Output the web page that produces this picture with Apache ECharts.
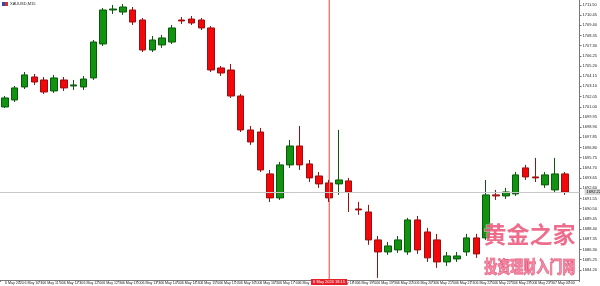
<!DOCTYPE html>
<html>
<head>
<meta charset="utf-8">
<script src="https://cdn.jsdelivr.net/npm/echarts@6/dist/echarts.min.js"></script>
<style>
html,body{margin:0;padding:0;background:#fff;}
#chart{width:600px;height:286px;}
</style>
</head>
<body>
<div id="chart"></div>
<script>
// Candle times (M15), 6 May 10:00 -> 7 May 00:15, plus one empty slot (chart shift)
const categories = [
 '6 May 10:00','6 May 10:15','6 May 10:30','6 May 10:45','6 May 11:00','6 May 11:15','6 May 11:30','6 May 11:45',
 '6 May 12:00','6 May 12:15','6 May 12:30','6 May 12:45','6 May 13:00','6 May 13:15','6 May 13:30','6 May 13:45',
 '6 May 14:00','6 May 14:15','6 May 14:30','6 May 14:45','6 May 15:00','6 May 15:15','6 May 15:30','6 May 15:45',
 '6 May 16:00','6 May 16:15','6 May 16:30','6 May 16:45','6 May 17:00','6 May 17:15','6 May 17:30','6 May 17:45',
 '6 May 18:00','6 May 18:15','6 May 18:30','6 May 18:45','6 May 19:00','6 May 19:15','6 May 19:30','6 May 19:45',
 '6 May 20:00','6 May 20:15','6 May 20:30','6 May 20:45','6 May 21:00','6 May 21:15','6 May 21:30','6 May 21:45',
 '6 May 22:00','6 May 22:15','6 May 22:30','6 May 22:45','6 May 23:00','6 May 23:15','6 May 23:30','6 May 23:45',
 '7 May 00:00','7 May 00:15',''
];
const firstLabel = '6 May 2020';
const markedTimeLabel = '6 May 2020 18:15';
const markedIndex = 33;
const symbolLabel = 'XAUUSD,M15';

const opens = [1700.98,1701.70,1703.04,1704.07,1703.76,1702.63,1703.76,1703.14,1703.04,1703.97,
 1707.47,1710.97,1710.76,1710.97,1709.94,1706.85,1707.37,1707.67,1709.94,1710.04,
 1709.94,1709.12,1705.00,1704.79,1702.11,1698.61,1698.40,1694.08,1691.61,1695.01,
 1696.96,1695.11,1693.87,1693.15,1693.05,1693.36,1690.47,1690.16,1687.28,1686.04,
 1686.25,1686.04,1689.34,1688.10,1687.28,1685.01,1685.32,1686.04,1687.49,1687.49,
 1691.92,1691.81,1692.02,1694.70,1693.77,1692.95,1692.43,1694.08];
const closes = [1701.91,1702.94,1704.28,1703.55,1702.52,1703.97,1702.94,1703.25,1703.86,1707.67,
 1710.97,1711.07,1711.28,1709.73,1706.85,1707.88,1708.09,1709.12,1709.84,1709.63,
 1709.12,1704.79,1704.48,1702.11,1698.61,1697.37,1694.49,1691.61,1695.01,1696.96,
 1695.01,1693.67,1693.05,1691.61,1693.46,1692.22,1690.37,1687.28,1686.04,1686.66,
 1687.28,1689.34,1686.25,1685.43,1685.01,1685.63,1685.63,1687.49,1685.84,1691.92,
 1691.81,1692.22,1693.98,1693.77,1693.67,1693.98,1694.08,1692.22];
const lows = [1700.88,1701.49,1702.83,1703.25,1702.32,1702.42,1702.63,1702.73,1702.73,1703.76,
 1707.26,1710.56,1710.46,1709.43,1706.64,1706.64,1707.06,1707.47,1709.53,1709.43,
 1708.91,1704.58,1704.17,1701.91,1698.40,1697.07,1694.28,1691.19,1691.40,1694.70,
 1694.49,1693.25,1692.64,1691.19,1691.92,1690.16,1689.86,1686.77,1683.37,1685.74,
 1685.94,1685.74,1685.84,1685.01,1684.40,1684.60,1685.01,1685.63,1685.43,1687.28,
 1691.40,1691.50,1691.81,1693.46,1693.25,1692.64,1692.22,1691.92];
const highs = [1702.11,1703.14,1704.58,1704.38,1704.07,1704.28,1704.07,1703.76,1704.17,1707.88,
 1711.18,1711.49,1711.59,1711.28,1710.15,1708.29,1708.40,1709.43,1710.25,1710.35,
 1710.15,1709.32,1705.20,1705.41,1702.32,1699.02,1698.82,1694.49,1695.31,1697.58,
 1699.02,1695.52,1694.28,1693.46,1698.61,1693.67,1691.19,1690.89,1687.69,1687.07,
 1687.69,1689.55,1689.75,1688.52,1687.90,1686.04,1686.04,1687.90,1687.90,1693.46,
 1692.43,1692.64,1694.28,1695.01,1695.73,1694.28,1695.73,1694.28];

const yMin = 1683.15, yMax = 1712.00, yStep = 1.05;

const candleData = opens.map((o, i) => [o, closes[i], lows[i], highs[i]]);
const lastClose = closes[closes.length - 1];

const chart = echarts.init(document.getElementById('chart'), null, {renderer: 'canvas'});
const tinyFont = 'Liberation Sans, Arial, sans-serif';

chart.setOption({
  animation: false,
  backgroundColor: '#ffffff',
  grid: {left: -3, right: 14, top: 0, bottom: 6, containLabel: false},
  xAxis: {
    type: 'category',
    data: categories,
    boundaryGap: true,
    axisLine: {show: true, lineStyle: {color: '#777', width: 1}},
    axisTick: {show: true, interval: 1, alignWithLabel: false, length: 2, lineStyle: {color: '#777'}},
    axisLabel: {
      show: true, interval: 1, fontSize: 3.6, color: '#222', margin: 1, align: 'left',
      fontFamily: tinyFont, showMinLabel: true, hideOverlap: false,
      formatter: (v, i) => (i === 0 ? firstLabel : v)
    },
    splitLine: {show: false}
  },
  yAxis: {
    type: 'value',
    position: 'right',
    min: yMin, max: yMax, interval: yStep,
    axisLine: {show: true, lineStyle: {color: '#777', width: 1}},
    axisTick: {show: true, length: 2, lineStyle: {color: '#777'}},
    axisLabel: {
      show: true, fontSize: 4, color: '#222', margin: 3, fontFamily: tinyFont,
      showMinLabel: false, showMaxLabel: false,
      formatter: v => v.toFixed(2)
    },
    splitLine: {show: false}
  },
  series: [
    {
      // vertical time marker line
      type: 'line',
      data: [[categories[markedIndex], yMin], [categories[markedIndex], yMax]],
      symbol: 'none',
      silent: true,
      z: 1,
      lineStyle: {color: '#f07a7a', width: 1, type: 'solid'},
      markLine: {
        symbol: 'none', silent: true, animation: false,
        lineStyle: {color: '#f07a7a', width: 1, type: 'solid'},
        data: [{
          xAxis: categories[markedIndex],
          label: {show: true, position: 'start', distance: -1, formatter: markedTimeLabel,
            backgroundColor: '#e8202a', color: '#fff', fontSize: 4, padding: [1, 2], fontFamily: tinyFont}
        }]
      }
    },
    {
      type: 'candlestick',
      data: candleData,
      barWidth: 7,
      z: 2,
      itemStyle: {
        color: '#119311', color0: '#f2070b',
        borderColor: '#0b5a0b', borderColor0: '#9a1010', borderWidth: 1
      },
      markLine: {
        symbol: 'none', silent: true, animation: false,
        data: [{
          yAxis: lastClose,
          lineStyle: {color: '#c8c8c8', width: 1, type: 'solid'},
          label: {show: true, position: 'end', formatter: lastClose.toFixed(2),
            backgroundColor: '#d4d4d4', color: '#000', fontSize: 4, padding: [1, 2], fontFamily: tinyFont}
        }]
      }
    }
  ],
  graphic: [
    {type: 'rect', left: 2, top: 2, shape: {width: 3, height: 4}, style: {fill: '#2a4fb0'}},
    {type: 'rect', left: 5, top: 2, shape: {width: 3, height: 4}, style: {fill: '#d83030'}},
    {type: 'text', left: 10, top: 2, style: {text: symbolLabel, fontSize: 4, fill: '#222', font: '4px ' + tinyFont}},
    {type: 'text', left: 483, top: 222, z: 100,
      style: {text: '黄金之家', font: 'bold 23px "Noto Sans CJK SC"', fill: 'rgba(236,84,120,0.85)',
        stroke: 'rgba(255,255,255,0.6)', lineWidth: 1}},
    {type: 'text', left: 484, top: 258, z: 100, scaleY: 1.3,
      style: {text: '投资理财入门网', font: 'bold 13px "Noto Sans CJK SC"', fill: 'rgba(240,120,150,0.85)',
        stroke: 'rgba(220,60,100,0.9)', lineWidth: 0.6}}
  ]
});
</script>
</body>
</html>
